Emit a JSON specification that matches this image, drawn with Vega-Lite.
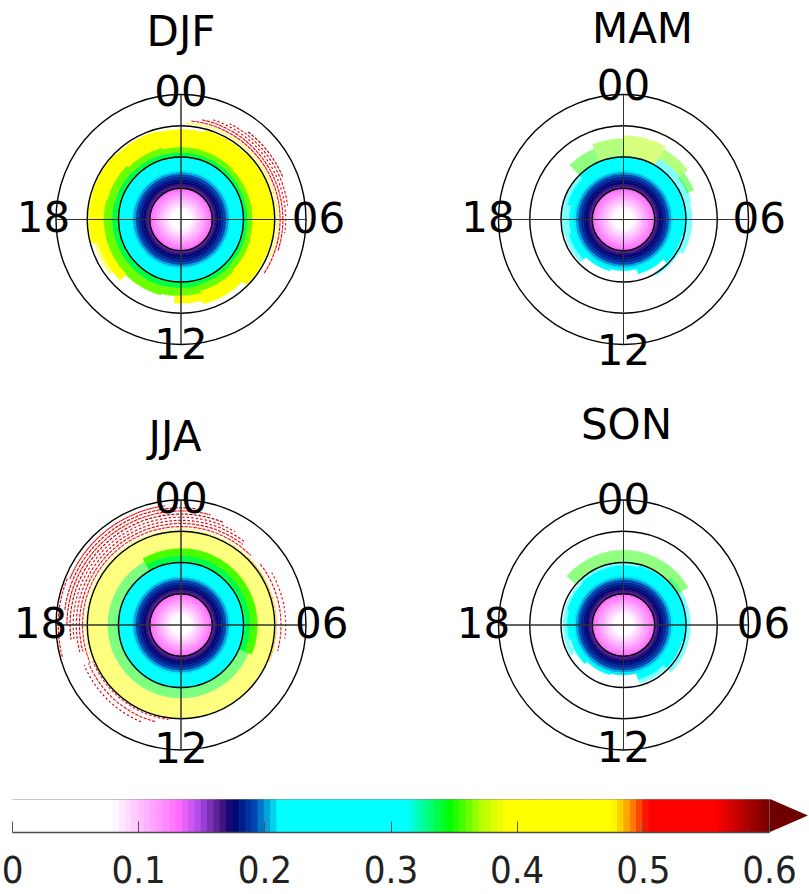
{
"$schema":"https://vega.github.io/schema/vega-lite/v6.json",
"background":"white",
"padding":0,
"spacing":0,
"config":{"view":{"stroke":null},"text":{"font":"DejaVu Sans"}},
"datasets":{
"core":[
{"r0":0,"r1":1,"v":0},{"r0":1,"r1":2,"v":0.035},{"r0":2,"r1":3,"v":0.065},{"r0":3,"r1":4,"v":0.08},{"r0":4,"r1":5,"v":0.088},{"r0":5,"r1":6,"v":0.096},{"r0":6,"r1":7,"v":0.104},{"r0":7,"r1":8,"v":0.112},{"r0":8,"r1":9,"v":0.12},{"r0":9,"r1":10,"v":0.128},
{"r0":10,"r1":10.7,"v":0.16},{"r0":10.7,"r1":11.4,"v":0.166},{"r0":11.4,"r1":12.2,"v":0.172},{"r0":12.2,"r1":13,"v":0.177},{"r0":13,"r1":13.8,"v":0.183},{"r0":13.8,"r1":14.6,"v":0.19},{"r0":14.6,"r1":15.3,"v":0.2},{"r0":15.3,"r1":16,"v":0.208}
],
"solid":[
{"s":"DJF","a0":0,"a1":24,"r0":16,"r1":20,"v":0.26},
{"s":"DJF","a0":-1,"a1":1,"r0":20,"r1":21.5,"v":0.335},{"s":"DJF","a0":-1,"a1":1,"r0":21.5,"r1":23.3,"v":0.36},{"s":"DJF","a0":-1,"a1":1,"r0":23.3,"r1":28.8,"v":0.42},
{"s":"DJF","a0":1,"a1":3,"r0":20,"r1":21.5,"v":0.335},{"s":"DJF","a0":1,"a1":3,"r0":21.5,"r1":23.2,"v":0.36},{"s":"DJF","a0":1,"a1":3,"r0":23.2,"r1":29.5,"v":0.42},
{"s":"DJF","a0":3,"a1":5,"r0":20,"r1":21.4,"v":0.335},{"s":"DJF","a0":3,"a1":5,"r0":21.4,"r1":23,"v":0.36},{"s":"DJF","a0":3,"a1":5,"r0":23,"r1":30,"v":0.42},
{"s":"DJF","a0":5,"a1":7,"r0":20,"r1":21.4,"v":0.335},{"s":"DJF","a0":5,"a1":7,"r0":21.4,"r1":23,"v":0.36},{"s":"DJF","a0":5,"a1":7,"r0":23,"r1":30,"v":0.42},
{"s":"DJF","a0":7,"a1":9,"r0":20,"r1":21.5,"v":0.335},{"s":"DJF","a0":7,"a1":9,"r0":21.5,"r1":23.3,"v":0.36},{"s":"DJF","a0":7,"a1":9,"r0":23.3,"r1":29.5,"v":0.42},
{"s":"DJF","a0":9,"a1":11,"r0":20,"r1":21.7,"v":0.335},{"s":"DJF","a0":9,"a1":11,"r0":21.7,"r1":23.8,"v":0.36},{"s":"DJF","a0":9,"a1":11,"r0":23.8,"r1":28,"v":0.42},
{"s":"DJF","a0":11,"a1":12.3,"r0":20,"r1":22,"v":0.335},{"s":"DJF","a0":11,"a1":12.3,"r0":22,"r1":24.5,"v":0.36},{"s":"DJF","a0":11,"a1":12.3,"r0":24.5,"r1":26.8,"v":0.42},
{"s":"DJF","a0":12.3,"a1":13,"r0":20,"r1":22,"v":0.335},{"s":"DJF","a0":12.3,"a1":13,"r0":22,"r1":24.5,"v":0.36},
{"s":"DJF","a0":13,"a1":15,"r0":20,"r1":22.2,"v":0.335},{"s":"DJF","a0":13,"a1":15,"r0":22.2,"r1":25,"v":0.36},
{"s":"DJF","a0":15,"a1":17,"r0":20,"r1":22.1,"v":0.335},{"s":"DJF","a0":15,"a1":17,"r0":22.1,"r1":24.8,"v":0.36},{"s":"DJF","a0":15,"a1":17,"r0":24.8,"r1":27.5,"v":0.42},
{"s":"DJF","a0":17,"a1":19,"r0":20,"r1":22.1,"v":0.335},{"s":"DJF","a0":17,"a1":19,"r0":22.1,"r1":24.8,"v":0.36},{"s":"DJF","a0":17,"a1":19,"r0":24.8,"r1":29.4,"v":0.42},
{"s":"DJF","a0":19,"a1":21,"r0":20,"r1":22,"v":0.335},{"s":"DJF","a0":19,"a1":21,"r0":22,"r1":24.5,"v":0.36},{"s":"DJF","a0":19,"a1":21,"r0":24.5,"r1":29.6,"v":0.42},
{"s":"DJF","a0":21,"a1":23,"r0":20,"r1":21.7,"v":0.335},{"s":"DJF","a0":21,"a1":23,"r0":21.7,"r1":23.8,"v":0.36},{"s":"DJF","a0":21,"a1":23,"r0":23.8,"r1":29.2,"v":0.42},
{"s":"MAM","a0":-1,"a1":1,"r0":16,"r1":20.3,"v":0.26},{"s":"MAM","a0":1,"a1":3,"r0":16,"r1":20.3,"v":0.26},{"s":"MAM","a0":3,"a1":5,"r0":16,"r1":20,"v":0.26},{"s":"MAM","a0":5,"a1":7,"r0":16,"r1":20,"v":0.26},{"s":"MAM","a0":7,"a1":9,"r0":16,"r1":19.5,"v":0.26},{"s":"MAM","a0":9,"a1":11,"r0":16,"r1":18,"v":0.26},{"s":"MAM","a0":11,"a1":13,"r0":16,"r1":16.4,"v":0.25},{"s":"MAM","a0":13,"a1":15,"r0":16,"r1":17,"v":0.26},{"s":"MAM","a0":15,"a1":17,"r0":16,"r1":18,"v":0.26},{"s":"MAM","a0":17,"a1":19,"r0":16,"r1":17.3,"v":0.26},{"s":"MAM","a0":19,"a1":21,"r0":16,"r1":18.5,"v":0.26},{"s":"MAM","a0":21,"a1":23,"r0":16,"r1":20,"v":0.26},
{"s":"JJA","a0":0,"a1":24,"r0":16,"r1":20.3,"v":0.26},
{"s":"JJA","a0":-2,"a1":7.5,"r0":20.3,"r1":22.3,"v":0.335},{"s":"JJA","a0":-2,"a1":7.5,"r0":22.3,"r1":24.5,"v":0.355},
{"s":"SON","a0":-1,"a1":1,"r0":16,"r1":19,"v":0.26},{"s":"SON","a0":1,"a1":3,"r0":16,"r1":19.5,"v":0.26},{"s":"SON","a0":3,"a1":5,"r0":16,"r1":20,"v":0.26},{"s":"SON","a0":5,"a1":7,"r0":16,"r1":20,"v":0.26},{"s":"SON","a0":7,"a1":9,"r0":16,"r1":19.5,"v":0.26},{"s":"SON","a0":9,"a1":11,"r0":16,"r1":18,"v":0.26},{"s":"SON","a0":13,"a1":15,"r0":16,"r1":16.5,"v":0.25},{"s":"SON","a0":15,"a1":17,"r0":16,"r1":17.5,"v":0.26},{"s":"SON","a0":17,"a1":19,"r0":16,"r1":18,"v":0.26},{"s":"SON","a0":19,"a1":21,"r0":16,"r1":18.5,"v":0.26},{"s":"SON","a0":21,"a1":23,"r0":16,"r1":19,"v":0.26}
],
"sparse":[
{"s":"DJF","a0":15.5,"a1":17,"r0":27.5,"r1":28.8,"v":0.42},{"s":"DJF","a0":17,"a1":19,"r0":29.4,"r1":30.4,"v":0.42},
{"s":"MAM","a0":15,"a1":17,"r0":18,"r1":19.5,"v":0.25},{"s":"MAM","a0":17,"a1":19,"r0":17.3,"r1":19.8,"v":0.25},{"s":"MAM","a0":19,"a1":21,"r0":18.5,"r1":20.3,"v":0.26},
{"s":"MAM","a0":2,"a1":5,"r0":20.3,"r1":22.5,"v":0.27},{"s":"MAM","a0":5,"a1":8,"r0":20,"r1":22,"v":0.26},{"s":"MAM","a0":8,"a1":10,"r0":19.5,"r1":20.8,"v":0.25},
{"s":"MAM","a0":21,"a1":22.5,"r0":20,"r1":24.5,"v":0.35},{"s":"MAM","a0":22.5,"a1":24,"r0":20.3,"r1":26,"v":0.36},{"s":"MAM","a0":0,"a1":2,"r0":20.3,"r1":27,"v":0.37},{"s":"MAM","a0":2,"a1":3.5,"r0":22.5,"r1":26,"v":0.36},{"s":"MAM","a0":3.5,"a1":4.5,"r0":22,"r1":24.5,"v":0.35},
{"s":"JJA","a0":7.5,"a1":22,"r0":20.3,"r1":23.5,"v":0.345},{"s":"JJA","a0":-2,"a1":7.5,"r0":24.5,"r1":30,"v":0.42},{"s":"JJA","a0":7.5,"a1":22,"r0":23.5,"r1":30,"v":0.41},
{"s":"SON","a0":21,"a1":27,"r0":19,"r1":20.2,"v":0.26},{"s":"SON","a0":3,"a1":9,"r0":20,"r1":21.5,"v":0.27},{"s":"SON","a0":16,"a1":21,"r0":18,"r1":19.5,"v":0.25},{"s":"SON","a0":9,"a1":11,"r0":18,"r1":19.5,"v":0.25},
{"s":"SON","a0":20.7,"a1":28,"r0":20.2,"r1":24,"v":0.35}
],
"dots":[
{"s":"DJF","a0":0.2,"a1":7.6,"r":30.8,"v":0.47},{"s":"DJF","a0":0.4,"a1":8.2,"r":31.7,"v":0.52},{"s":"DJF","a0":0.8,"a1":7.2,"r":32.6,"v":0.55},{"s":"DJF","a0":1.2,"a1":6.5,"r":33.5,"v":0.57},{"s":"DJF","a0":1.8,"a1":5.5,"r":34.4,"v":0.55},{"s":"DJF","a0":2.5,"a1":4.5,"r":35.3,"v":0.58},
{"s":"JJA","a0":16.5,"a1":27,"r":30.5,"v":0.47},{"s":"JJA","a0":16.5,"a1":27,"r":31.5,"v":0.5},{"s":"JJA","a0":17,"a1":26.5,"r":32.5,"v":0.53},{"s":"JJA","a0":17,"a1":26.5,"r":33.5,"v":0.56},{"s":"JJA","a0":17.5,"a1":26,"r":34.5,"v":0.54},{"s":"JJA","a0":17.5,"a1":25.5,"r":35.5,"v":0.58},{"s":"JJA","a0":18,"a1":25,"r":36.5,"v":0.55},{"s":"JJA","a0":18.5,"a1":24.5,"r":37.5,"v":0.57},{"s":"JJA","a0":19.5,"a1":23.5,"r":38.5,"v":0.56},{"s":"JJA","a0":17,"a1":19.5,"r":39.3,"v":0.52},
{"s":"JJA","a0":3,"a1":7.5,"r":30.5,"v":0.48},{"s":"JJA","a0":3.5,"a1":7,"r":32,"v":0.53},{"s":"JJA","a0":4,"a1":6.5,"r":33.5,"v":0.56},
{"s":"JJA","a0":12.5,"a1":16.5,"r":30.5,"v":0.5},{"s":"JJA","a0":13,"a1":16.5,"r":32,"v":0.55},{"s":"JJA","a0":13.5,"a1":16.5,"r":33.5,"v":0.57}
],
"grid":[{"r":10},{"r":20},{"r":30},{"r":40}],
"spokes":[{"h":0},{"h":6},{"h":12},{"h":18}],
"hv":[{"h":0,"t":"00"},{"h":12,"t":"12"}],
"hh":[{"h":6,"t":"06"},{"h":18,"t":"18"}],
"cbar":[
{"a":0,"b":0.005},{"a":0.005,"b":0.01},{"a":0.01,"b":0.015},{"a":0.015,"b":0.02},{"a":0.02,"b":0.025},{"a":0.025,"b":0.03},{"a":0.03,"b":0.035},{"a":0.035,"b":0.04},{"a":0.04,"b":0.045},{"a":0.045,"b":0.05},
{"a":0.05,"b":0.055},{"a":0.055,"b":0.06},{"a":0.06,"b":0.065},{"a":0.065,"b":0.07},{"a":0.07,"b":0.075},{"a":0.075,"b":0.08},{"a":0.08,"b":0.085},{"a":0.085,"b":0.09},{"a":0.09,"b":0.095},{"a":0.095,"b":0.1},
{"a":0.1,"b":0.105},{"a":0.105,"b":0.11},{"a":0.11,"b":0.115},{"a":0.115,"b":0.12},{"a":0.12,"b":0.125},{"a":0.125,"b":0.13},{"a":0.13,"b":0.135},{"a":0.135,"b":0.14},{"a":0.14,"b":0.145},{"a":0.145,"b":0.15},
{"a":0.15,"b":0.155},{"a":0.155,"b":0.16},{"a":0.16,"b":0.165},{"a":0.165,"b":0.17},{"a":0.17,"b":0.175},{"a":0.175,"b":0.18},{"a":0.18,"b":0.185},{"a":0.185,"b":0.19},{"a":0.19,"b":0.195},{"a":0.195,"b":0.2},
{"a":0.2,"b":0.205},{"a":0.205,"b":0.21},{"a":0.21,"b":0.215},{"a":0.215,"b":0.22},{"a":0.22,"b":0.225},{"a":0.225,"b":0.23},{"a":0.23,"b":0.235},{"a":0.235,"b":0.24},{"a":0.24,"b":0.245},{"a":0.245,"b":0.25},
{"a":0.25,"b":0.255},{"a":0.255,"b":0.26},{"a":0.26,"b":0.265},{"a":0.265,"b":0.27},{"a":0.27,"b":0.275},{"a":0.275,"b":0.28},{"a":0.28,"b":0.285},{"a":0.285,"b":0.29},{"a":0.29,"b":0.295},{"a":0.295,"b":0.3},
{"a":0.3,"b":0.305},{"a":0.305,"b":0.31},{"a":0.31,"b":0.315},{"a":0.315,"b":0.32},{"a":0.32,"b":0.325},{"a":0.325,"b":0.33},{"a":0.33,"b":0.335},{"a":0.335,"b":0.34},{"a":0.34,"b":0.345},{"a":0.345,"b":0.35},
{"a":0.35,"b":0.355},{"a":0.355,"b":0.36},{"a":0.36,"b":0.365},{"a":0.365,"b":0.37},{"a":0.37,"b":0.375},{"a":0.375,"b":0.38},{"a":0.38,"b":0.385},{"a":0.385,"b":0.39},{"a":0.39,"b":0.395},{"a":0.395,"b":0.4},
{"a":0.4,"b":0.405},{"a":0.405,"b":0.41},{"a":0.41,"b":0.415},{"a":0.415,"b":0.42},{"a":0.42,"b":0.425},{"a":0.425,"b":0.43},{"a":0.43,"b":0.435},{"a":0.435,"b":0.44},{"a":0.44,"b":0.445},{"a":0.445,"b":0.45},
{"a":0.45,"b":0.455},{"a":0.455,"b":0.46},{"a":0.46,"b":0.465},{"a":0.465,"b":0.47},{"a":0.47,"b":0.475},{"a":0.475,"b":0.48},{"a":0.48,"b":0.485},{"a":0.485,"b":0.49},{"a":0.49,"b":0.495},{"a":0.495,"b":0.5},
{"a":0.5,"b":0.505},{"a":0.505,"b":0.51},{"a":0.51,"b":0.515},{"a":0.515,"b":0.52},{"a":0.52,"b":0.525},{"a":0.525,"b":0.53},{"a":0.53,"b":0.535},{"a":0.535,"b":0.54},{"a":0.54,"b":0.545},{"a":0.545,"b":0.55},
{"a":0.55,"b":0.555},{"a":0.555,"b":0.56},{"a":0.56,"b":0.565},{"a":0.565,"b":0.57},{"a":0.57,"b":0.575},{"a":0.575,"b":0.58},{"a":0.58,"b":0.585},{"a":0.585,"b":0.59},{"a":0.59,"b":0.595},{"a":0.595,"b":0.6}
]
},
"vconcat":[
{"width":809,"height":798,"layer":[
{"data":{"name":"core"},"mark":{"type":"arc","strokeWidth":0.6},"encoding":{"x":{"datum":"L","type":"nominal","axis":null,"scale":{"type":"point","domain":["L","R"],"range":[181,623.5],"padding":0}},"y":{"datum":"T","type":"nominal","axis":null,"scale":{"type":"point","domain":["T","B"],"range":[219.5,625],"padding":0}},"theta":{"datum":0,"type":"quantitative","scale":{"domain":[0,24],"range":[0,6.2832]}},"theta2":{"datum":24},"radius":{"field":"r0","type":"quantitative","stack":null,"scale":{"type":"linear","zero":true,"domain":[0,40],"range":[0,125]}},"radius2":{"field":"r1"},"fill":{"field":"v","type":"quantitative","legend":null,"scale":{"type":"linear","interpolate":"rgb","domain":[0,0.077,0.085,0.13,0.147,0.163,0.173,0.19,0.21,0.31,0.345,0.37,0.39,0.474,0.487,0.502,0.555,0.6],"range":["#ffffff","#ffffff","#ffe8ff","#ff6cff","#a848e8","#4c1a84","#00006e","#0046b4","#00ffff","#00ffff","#00ff00","#b4ff00","#ffff00","#ffff00","#ff9800","#ff0000","#ff0000","#6e0000"]}},"stroke":{"field":"v","type":"quantitative","legend":null,"scale":{"type":"linear","interpolate":"rgb","domain":[0,0.077,0.085,0.13,0.147,0.163,0.173,0.19,0.21,0.31,0.345,0.37,0.39,0.474,0.487,0.502,0.555,0.6],"range":["#ffffff","#ffffff","#ffe8ff","#ff6cff","#a848e8","#4c1a84","#00006e","#0046b4","#00ffff","#00ffff","#00ff00","#b4ff00","#ffff00","#ffff00","#ff9800","#ff0000","#ff0000","#6e0000"]}}}},
{"data":{"name":"core"},"mark":{"type":"arc","strokeWidth":0.6},"encoding":{"x":{"datum":"R","type":"nominal","axis":null,"scale":{"type":"point","domain":["L","R"],"range":[181,623.5],"padding":0}},"y":{"datum":"T","type":"nominal","axis":null,"scale":{"type":"point","domain":["T","B"],"range":[219.5,625],"padding":0}},"theta":{"datum":0,"type":"quantitative","scale":{"domain":[0,24],"range":[0,6.2832]}},"theta2":{"datum":24},"radius":{"field":"r0","type":"quantitative","stack":null,"scale":{"type":"linear","zero":true,"domain":[0,40],"range":[0,125]}},"radius2":{"field":"r1"},"fill":{"field":"v","type":"quantitative","legend":null,"scale":{"type":"linear","interpolate":"rgb","domain":[0,0.077,0.085,0.13,0.147,0.163,0.173,0.19,0.21,0.31,0.345,0.37,0.39,0.474,0.487,0.502,0.555,0.6],"range":["#ffffff","#ffffff","#ffe8ff","#ff6cff","#a848e8","#4c1a84","#00006e","#0046b4","#00ffff","#00ffff","#00ff00","#b4ff00","#ffff00","#ffff00","#ff9800","#ff0000","#ff0000","#6e0000"]}},"stroke":{"field":"v","type":"quantitative","legend":null,"scale":{"type":"linear","interpolate":"rgb","domain":[0,0.077,0.085,0.13,0.147,0.163,0.173,0.19,0.21,0.31,0.345,0.37,0.39,0.474,0.487,0.502,0.555,0.6],"range":["#ffffff","#ffffff","#ffe8ff","#ff6cff","#a848e8","#4c1a84","#00006e","#0046b4","#00ffff","#00ffff","#00ff00","#b4ff00","#ffff00","#ffff00","#ff9800","#ff0000","#ff0000","#6e0000"]}}}},
{"data":{"name":"core"},"mark":{"type":"arc","strokeWidth":0.6},"encoding":{"x":{"datum":"L","type":"nominal","axis":null,"scale":{"type":"point","domain":["L","R"],"range":[181,623.5],"padding":0}},"y":{"datum":"B","type":"nominal","axis":null,"scale":{"type":"point","domain":["T","B"],"range":[219.5,625],"padding":0}},"theta":{"datum":0,"type":"quantitative","scale":{"domain":[0,24],"range":[0,6.2832]}},"theta2":{"datum":24},"radius":{"field":"r0","type":"quantitative","stack":null,"scale":{"type":"linear","zero":true,"domain":[0,40],"range":[0,125]}},"radius2":{"field":"r1"},"fill":{"field":"v","type":"quantitative","legend":null,"scale":{"type":"linear","interpolate":"rgb","domain":[0,0.077,0.085,0.13,0.147,0.163,0.173,0.19,0.21,0.31,0.345,0.37,0.39,0.474,0.487,0.502,0.555,0.6],"range":["#ffffff","#ffffff","#ffe8ff","#ff6cff","#a848e8","#4c1a84","#00006e","#0046b4","#00ffff","#00ffff","#00ff00","#b4ff00","#ffff00","#ffff00","#ff9800","#ff0000","#ff0000","#6e0000"]}},"stroke":{"field":"v","type":"quantitative","legend":null,"scale":{"type":"linear","interpolate":"rgb","domain":[0,0.077,0.085,0.13,0.147,0.163,0.173,0.19,0.21,0.31,0.345,0.37,0.39,0.474,0.487,0.502,0.555,0.6],"range":["#ffffff","#ffffff","#ffe8ff","#ff6cff","#a848e8","#4c1a84","#00006e","#0046b4","#00ffff","#00ffff","#00ff00","#b4ff00","#ffff00","#ffff00","#ff9800","#ff0000","#ff0000","#6e0000"]}}}},
{"data":{"name":"core"},"mark":{"type":"arc","strokeWidth":0.6},"encoding":{"x":{"datum":"R","type":"nominal","axis":null,"scale":{"type":"point","domain":["L","R"],"range":[181,623.5],"padding":0}},"y":{"datum":"B","type":"nominal","axis":null,"scale":{"type":"point","domain":["T","B"],"range":[219.5,625],"padding":0}},"theta":{"datum":0,"type":"quantitative","scale":{"domain":[0,24],"range":[0,6.2832]}},"theta2":{"datum":24},"radius":{"field":"r0","type":"quantitative","stack":null,"scale":{"type":"linear","zero":true,"domain":[0,40],"range":[0,125]}},"radius2":{"field":"r1"},"fill":{"field":"v","type":"quantitative","legend":null,"scale":{"type":"linear","interpolate":"rgb","domain":[0,0.077,0.085,0.13,0.147,0.163,0.173,0.19,0.21,0.31,0.345,0.37,0.39,0.474,0.487,0.502,0.555,0.6],"range":["#ffffff","#ffffff","#ffe8ff","#ff6cff","#a848e8","#4c1a84","#00006e","#0046b4","#00ffff","#00ffff","#00ff00","#b4ff00","#ffff00","#ffff00","#ff9800","#ff0000","#ff0000","#6e0000"]}},"stroke":{"field":"v","type":"quantitative","legend":null,"scale":{"type":"linear","interpolate":"rgb","domain":[0,0.077,0.085,0.13,0.147,0.163,0.173,0.19,0.21,0.31,0.345,0.37,0.39,0.474,0.487,0.502,0.555,0.6],"range":["#ffffff","#ffffff","#ffe8ff","#ff6cff","#a848e8","#4c1a84","#00006e","#0046b4","#00ffff","#00ffff","#00ff00","#b4ff00","#ffff00","#ffff00","#ff9800","#ff0000","#ff0000","#6e0000"]}}}},
{"data":{"name":"solid"},"transform":[{"filter":"datum.s==='DJF'"}],"mark":{"type":"arc","strokeWidth":0.6},"encoding":{"x":{"datum":"L","type":"nominal","axis":null,"scale":{"type":"point","domain":["L","R"],"range":[181,623.5],"padding":0}},"y":{"datum":"T","type":"nominal","axis":null,"scale":{"type":"point","domain":["T","B"],"range":[219.5,625],"padding":0}},"theta":{"field":"a0","type":"quantitative","stack":null,"scale":{"domain":[0,24],"range":[0,6.2832]}},"theta2":{"field":"a1"},"radius":{"field":"r0","type":"quantitative","stack":null,"scale":{"type":"linear","zero":true,"domain":[0,40],"range":[0,125]}},"radius2":{"field":"r1"},"fill":{"field":"v","type":"quantitative","legend":null,"scale":{"type":"linear","interpolate":"rgb","domain":[0,0.077,0.085,0.13,0.147,0.163,0.173,0.19,0.21,0.31,0.345,0.37,0.39,0.474,0.487,0.502,0.555,0.6],"range":["#ffffff","#ffffff","#ffe8ff","#ff6cff","#a848e8","#4c1a84","#00006e","#0046b4","#00ffff","#00ffff","#00ff00","#b4ff00","#ffff00","#ffff00","#ff9800","#ff0000","#ff0000","#6e0000"]}},"stroke":{"field":"v","type":"quantitative","legend":null,"scale":{"type":"linear","interpolate":"rgb","domain":[0,0.077,0.085,0.13,0.147,0.163,0.173,0.19,0.21,0.31,0.345,0.37,0.39,0.474,0.487,0.502,0.555,0.6],"range":["#ffffff","#ffffff","#ffe8ff","#ff6cff","#a848e8","#4c1a84","#00006e","#0046b4","#00ffff","#00ffff","#00ff00","#b4ff00","#ffff00","#ffff00","#ff9800","#ff0000","#ff0000","#6e0000"]}}}},
{"data":{"name":"solid"},"transform":[{"filter":"datum.s==='MAM'"}],"mark":{"type":"arc","strokeWidth":0.6},"encoding":{"x":{"datum":"R","type":"nominal","axis":null,"scale":{"type":"point","domain":["L","R"],"range":[181,623.5],"padding":0}},"y":{"datum":"T","type":"nominal","axis":null,"scale":{"type":"point","domain":["T","B"],"range":[219.5,625],"padding":0}},"theta":{"field":"a0","type":"quantitative","stack":null,"scale":{"domain":[0,24],"range":[0,6.2832]}},"theta2":{"field":"a1"},"radius":{"field":"r0","type":"quantitative","stack":null,"scale":{"type":"linear","zero":true,"domain":[0,40],"range":[0,125]}},"radius2":{"field":"r1"},"fill":{"field":"v","type":"quantitative","legend":null,"scale":{"type":"linear","interpolate":"rgb","domain":[0,0.077,0.085,0.13,0.147,0.163,0.173,0.19,0.21,0.31,0.345,0.37,0.39,0.474,0.487,0.502,0.555,0.6],"range":["#ffffff","#ffffff","#ffe8ff","#ff6cff","#a848e8","#4c1a84","#00006e","#0046b4","#00ffff","#00ffff","#00ff00","#b4ff00","#ffff00","#ffff00","#ff9800","#ff0000","#ff0000","#6e0000"]}},"stroke":{"field":"v","type":"quantitative","legend":null,"scale":{"type":"linear","interpolate":"rgb","domain":[0,0.077,0.085,0.13,0.147,0.163,0.173,0.19,0.21,0.31,0.345,0.37,0.39,0.474,0.487,0.502,0.555,0.6],"range":["#ffffff","#ffffff","#ffe8ff","#ff6cff","#a848e8","#4c1a84","#00006e","#0046b4","#00ffff","#00ffff","#00ff00","#b4ff00","#ffff00","#ffff00","#ff9800","#ff0000","#ff0000","#6e0000"]}}}},
{"data":{"name":"solid"},"transform":[{"filter":"datum.s==='JJA'"}],"mark":{"type":"arc","strokeWidth":0.6},"encoding":{"x":{"datum":"L","type":"nominal","axis":null,"scale":{"type":"point","domain":["L","R"],"range":[181,623.5],"padding":0}},"y":{"datum":"B","type":"nominal","axis":null,"scale":{"type":"point","domain":["T","B"],"range":[219.5,625],"padding":0}},"theta":{"field":"a0","type":"quantitative","stack":null,"scale":{"domain":[0,24],"range":[0,6.2832]}},"theta2":{"field":"a1"},"radius":{"field":"r0","type":"quantitative","stack":null,"scale":{"type":"linear","zero":true,"domain":[0,40],"range":[0,125]}},"radius2":{"field":"r1"},"fill":{"field":"v","type":"quantitative","legend":null,"scale":{"type":"linear","interpolate":"rgb","domain":[0,0.077,0.085,0.13,0.147,0.163,0.173,0.19,0.21,0.31,0.345,0.37,0.39,0.474,0.487,0.502,0.555,0.6],"range":["#ffffff","#ffffff","#ffe8ff","#ff6cff","#a848e8","#4c1a84","#00006e","#0046b4","#00ffff","#00ffff","#00ff00","#b4ff00","#ffff00","#ffff00","#ff9800","#ff0000","#ff0000","#6e0000"]}},"stroke":{"field":"v","type":"quantitative","legend":null,"scale":{"type":"linear","interpolate":"rgb","domain":[0,0.077,0.085,0.13,0.147,0.163,0.173,0.19,0.21,0.31,0.345,0.37,0.39,0.474,0.487,0.502,0.555,0.6],"range":["#ffffff","#ffffff","#ffe8ff","#ff6cff","#a848e8","#4c1a84","#00006e","#0046b4","#00ffff","#00ffff","#00ff00","#b4ff00","#ffff00","#ffff00","#ff9800","#ff0000","#ff0000","#6e0000"]}}}},
{"data":{"name":"solid"},"transform":[{"filter":"datum.s==='SON'"}],"mark":{"type":"arc","strokeWidth":0.6},"encoding":{"x":{"datum":"R","type":"nominal","axis":null,"scale":{"type":"point","domain":["L","R"],"range":[181,623.5],"padding":0}},"y":{"datum":"B","type":"nominal","axis":null,"scale":{"type":"point","domain":["T","B"],"range":[219.5,625],"padding":0}},"theta":{"field":"a0","type":"quantitative","stack":null,"scale":{"domain":[0,24],"range":[0,6.2832]}},"theta2":{"field":"a1"},"radius":{"field":"r0","type":"quantitative","stack":null,"scale":{"type":"linear","zero":true,"domain":[0,40],"range":[0,125]}},"radius2":{"field":"r1"},"fill":{"field":"v","type":"quantitative","legend":null,"scale":{"type":"linear","interpolate":"rgb","domain":[0,0.077,0.085,0.13,0.147,0.163,0.173,0.19,0.21,0.31,0.345,0.37,0.39,0.474,0.487,0.502,0.555,0.6],"range":["#ffffff","#ffffff","#ffe8ff","#ff6cff","#a848e8","#4c1a84","#00006e","#0046b4","#00ffff","#00ffff","#00ff00","#b4ff00","#ffff00","#ffff00","#ff9800","#ff0000","#ff0000","#6e0000"]}},"stroke":{"field":"v","type":"quantitative","legend":null,"scale":{"type":"linear","interpolate":"rgb","domain":[0,0.077,0.085,0.13,0.147,0.163,0.173,0.19,0.21,0.31,0.345,0.37,0.39,0.474,0.487,0.502,0.555,0.6],"range":["#ffffff","#ffffff","#ffe8ff","#ff6cff","#a848e8","#4c1a84","#00006e","#0046b4","#00ffff","#00ffff","#00ff00","#b4ff00","#ffff00","#ffff00","#ff9800","#ff0000","#ff0000","#6e0000"]}}}},
{"data":{"name":"sparse"},"transform":[{"filter":"datum.s==='DJF'"}],"mark":{"type":"arc","fillOpacity":0.5},"encoding":{"x":{"datum":"L","type":"nominal","axis":null,"scale":{"type":"point","domain":["L","R"],"range":[181,623.5],"padding":0}},"y":{"datum":"T","type":"nominal","axis":null,"scale":{"type":"point","domain":["T","B"],"range":[219.5,625],"padding":0}},"theta":{"field":"a0","type":"quantitative","stack":null,"scale":{"domain":[0,24],"range":[0,6.2832]}},"theta2":{"field":"a1"},"radius":{"field":"r0","type":"quantitative","stack":null,"scale":{"type":"linear","zero":true,"domain":[0,40],"range":[0,125]}},"radius2":{"field":"r1"},"fill":{"field":"v","type":"quantitative","legend":null,"scale":{"type":"linear","interpolate":"rgb","domain":[0,0.077,0.085,0.13,0.147,0.163,0.173,0.19,0.21,0.31,0.345,0.37,0.39,0.474,0.487,0.502,0.555,0.6],"range":["#ffffff","#ffffff","#ffe8ff","#ff6cff","#a848e8","#4c1a84","#00006e","#0046b4","#00ffff","#00ffff","#00ff00","#b4ff00","#ffff00","#ffff00","#ff9800","#ff0000","#ff0000","#6e0000"]}}}},
{"data":{"name":"sparse"},"transform":[{"filter":"datum.s==='MAM'"}],"mark":{"type":"arc","fillOpacity":0.5},"encoding":{"x":{"datum":"R","type":"nominal","axis":null,"scale":{"type":"point","domain":["L","R"],"range":[181,623.5],"padding":0}},"y":{"datum":"T","type":"nominal","axis":null,"scale":{"type":"point","domain":["T","B"],"range":[219.5,625],"padding":0}},"theta":{"field":"a0","type":"quantitative","stack":null,"scale":{"domain":[0,24],"range":[0,6.2832]}},"theta2":{"field":"a1"},"radius":{"field":"r0","type":"quantitative","stack":null,"scale":{"type":"linear","zero":true,"domain":[0,40],"range":[0,125]}},"radius2":{"field":"r1"},"fill":{"field":"v","type":"quantitative","legend":null,"scale":{"type":"linear","interpolate":"rgb","domain":[0,0.077,0.085,0.13,0.147,0.163,0.173,0.19,0.21,0.31,0.345,0.37,0.39,0.474,0.487,0.502,0.555,0.6],"range":["#ffffff","#ffffff","#ffe8ff","#ff6cff","#a848e8","#4c1a84","#00006e","#0046b4","#00ffff","#00ffff","#00ff00","#b4ff00","#ffff00","#ffff00","#ff9800","#ff0000","#ff0000","#6e0000"]}}}},
{"data":{"name":"sparse"},"transform":[{"filter":"datum.s==='JJA'"}],"mark":{"type":"arc","fillOpacity":0.5},"encoding":{"x":{"datum":"L","type":"nominal","axis":null,"scale":{"type":"point","domain":["L","R"],"range":[181,623.5],"padding":0}},"y":{"datum":"B","type":"nominal","axis":null,"scale":{"type":"point","domain":["T","B"],"range":[219.5,625],"padding":0}},"theta":{"field":"a0","type":"quantitative","stack":null,"scale":{"domain":[0,24],"range":[0,6.2832]}},"theta2":{"field":"a1"},"radius":{"field":"r0","type":"quantitative","stack":null,"scale":{"type":"linear","zero":true,"domain":[0,40],"range":[0,125]}},"radius2":{"field":"r1"},"fill":{"field":"v","type":"quantitative","legend":null,"scale":{"type":"linear","interpolate":"rgb","domain":[0,0.077,0.085,0.13,0.147,0.163,0.173,0.19,0.21,0.31,0.345,0.37,0.39,0.474,0.487,0.502,0.555,0.6],"range":["#ffffff","#ffffff","#ffe8ff","#ff6cff","#a848e8","#4c1a84","#00006e","#0046b4","#00ffff","#00ffff","#00ff00","#b4ff00","#ffff00","#ffff00","#ff9800","#ff0000","#ff0000","#6e0000"]}}}},
{"data":{"name":"sparse"},"transform":[{"filter":"datum.s==='SON'"}],"mark":{"type":"arc","fillOpacity":0.5},"encoding":{"x":{"datum":"R","type":"nominal","axis":null,"scale":{"type":"point","domain":["L","R"],"range":[181,623.5],"padding":0}},"y":{"datum":"B","type":"nominal","axis":null,"scale":{"type":"point","domain":["T","B"],"range":[219.5,625],"padding":0}},"theta":{"field":"a0","type":"quantitative","stack":null,"scale":{"domain":[0,24],"range":[0,6.2832]}},"theta2":{"field":"a1"},"radius":{"field":"r0","type":"quantitative","stack":null,"scale":{"type":"linear","zero":true,"domain":[0,40],"range":[0,125]}},"radius2":{"field":"r1"},"fill":{"field":"v","type":"quantitative","legend":null,"scale":{"type":"linear","interpolate":"rgb","domain":[0,0.077,0.085,0.13,0.147,0.163,0.173,0.19,0.21,0.31,0.345,0.37,0.39,0.474,0.487,0.502,0.555,0.6],"range":["#ffffff","#ffffff","#ffe8ff","#ff6cff","#a848e8","#4c1a84","#00006e","#0046b4","#00ffff","#00ffff","#00ff00","#b4ff00","#ffff00","#ffff00","#ff9800","#ff0000","#ff0000","#6e0000"]}}}},
{"data":{"name":"dots"},"transform":[{"filter":"datum.s==='DJF'"}],"mark":{"type":"arc","filled":false,"strokeWidth":1.1,"strokeDash":[2,2.5]},"encoding":{"x":{"datum":"L","type":"nominal","axis":null,"scale":{"type":"point","domain":["L","R"],"range":[181,623.5],"padding":0}},"y":{"datum":"T","type":"nominal","axis":null,"scale":{"type":"point","domain":["T","B"],"range":[219.5,625],"padding":0}},"theta":{"field":"a0","type":"quantitative","stack":null,"scale":{"domain":[0,24],"range":[0,6.2832]}},"theta2":{"field":"a1"},"radius":{"field":"r","type":"quantitative","stack":null,"scale":{"type":"linear","zero":true,"domain":[0,40],"range":[0,125]}},"radius2":{"field":"r"},"stroke":{"field":"v","type":"quantitative","legend":null,"scale":{"type":"linear","interpolate":"rgb","domain":[0,0.077,0.085,0.13,0.147,0.163,0.173,0.19,0.21,0.31,0.345,0.37,0.39,0.474,0.487,0.502,0.555,0.6],"range":["#ffffff","#ffffff","#ffe8ff","#ff6cff","#a848e8","#4c1a84","#00006e","#0046b4","#00ffff","#00ffff","#00ff00","#b4ff00","#ffff00","#ffff00","#ff9800","#ff0000","#ff0000","#6e0000"]}}}},
{"data":{"name":"dots"},"transform":[{"filter":"datum.s==='JJA'"}],"mark":{"type":"arc","filled":false,"strokeWidth":1.1,"strokeDash":[2,2.5]},"encoding":{"x":{"datum":"L","type":"nominal","axis":null,"scale":{"type":"point","domain":["L","R"],"range":[181,623.5],"padding":0}},"y":{"datum":"B","type":"nominal","axis":null,"scale":{"type":"point","domain":["T","B"],"range":[219.5,625],"padding":0}},"theta":{"field":"a0","type":"quantitative","stack":null,"scale":{"domain":[0,24],"range":[0,6.2832]}},"theta2":{"field":"a1"},"radius":{"field":"r","type":"quantitative","stack":null,"scale":{"type":"linear","zero":true,"domain":[0,40],"range":[0,125]}},"radius2":{"field":"r"},"stroke":{"field":"v","type":"quantitative","legend":null,"scale":{"type":"linear","interpolate":"rgb","domain":[0,0.077,0.085,0.13,0.147,0.163,0.173,0.19,0.21,0.31,0.345,0.37,0.39,0.474,0.487,0.502,0.555,0.6],"range":["#ffffff","#ffffff","#ffe8ff","#ff6cff","#a848e8","#4c1a84","#00006e","#0046b4","#00ffff","#00ffff","#00ff00","#b4ff00","#ffff00","#ffff00","#ff9800","#ff0000","#ff0000","#6e0000"]}}}},
{"data":{"name":"grid"},"mark":{"type":"arc","filled":false,"stroke":"black","strokeWidth":1.4},"encoding":{"x":{"datum":"L","type":"nominal","axis":null,"scale":{"type":"point","domain":["L","R"],"range":[181,623.5],"padding":0}},"y":{"datum":"T","type":"nominal","axis":null,"scale":{"type":"point","domain":["T","B"],"range":[219.5,625],"padding":0}},"theta":{"datum":0,"type":"quantitative","scale":{"domain":[0,24],"range":[0,6.2832]}},"theta2":{"datum":24},"radius":{"field":"r","type":"quantitative","stack":null,"scale":{"type":"linear","zero":true,"domain":[0,40],"range":[0,125]}}}},
{"data":{"name":"grid"},"mark":{"type":"arc","filled":false,"stroke":"black","strokeWidth":1.4},"encoding":{"x":{"datum":"R","type":"nominal","axis":null,"scale":{"type":"point","domain":["L","R"],"range":[181,623.5],"padding":0}},"y":{"datum":"T","type":"nominal","axis":null,"scale":{"type":"point","domain":["T","B"],"range":[219.5,625],"padding":0}},"theta":{"datum":0,"type":"quantitative","scale":{"domain":[0,24],"range":[0,6.2832]}},"theta2":{"datum":24},"radius":{"field":"r","type":"quantitative","stack":null,"scale":{"type":"linear","zero":true,"domain":[0,40],"range":[0,125]}}}},
{"data":{"name":"grid"},"mark":{"type":"arc","filled":false,"stroke":"black","strokeWidth":1.4},"encoding":{"x":{"datum":"L","type":"nominal","axis":null,"scale":{"type":"point","domain":["L","R"],"range":[181,623.5],"padding":0}},"y":{"datum":"B","type":"nominal","axis":null,"scale":{"type":"point","domain":["T","B"],"range":[219.5,625],"padding":0}},"theta":{"datum":0,"type":"quantitative","scale":{"domain":[0,24],"range":[0,6.2832]}},"theta2":{"datum":24},"radius":{"field":"r","type":"quantitative","stack":null,"scale":{"type":"linear","zero":true,"domain":[0,40],"range":[0,125]}}}},
{"data":{"name":"grid"},"mark":{"type":"arc","filled":false,"stroke":"black","strokeWidth":1.4},"encoding":{"x":{"datum":"R","type":"nominal","axis":null,"scale":{"type":"point","domain":["L","R"],"range":[181,623.5],"padding":0}},"y":{"datum":"B","type":"nominal","axis":null,"scale":{"type":"point","domain":["T","B"],"range":[219.5,625],"padding":0}},"theta":{"datum":0,"type":"quantitative","scale":{"domain":[0,24],"range":[0,6.2832]}},"theta2":{"datum":24},"radius":{"field":"r","type":"quantitative","stack":null,"scale":{"type":"linear","zero":true,"domain":[0,40],"range":[0,125]}}}},
{"data":{"name":"spokes"},"mark":{"type":"arc","filled":false,"stroke":"#333333","strokeWidth":1},"encoding":{"x":{"datum":"L","type":"nominal","axis":null,"scale":{"type":"point","domain":["L","R"],"range":[181,623.5],"padding":0}},"y":{"datum":"T","type":"nominal","axis":null,"scale":{"type":"point","domain":["T","B"],"range":[219.5,625],"padding":0}},"theta":{"field":"h","type":"quantitative","stack":null,"scale":{"domain":[0,24],"range":[0,6.2832]}},"theta2":{"field":"h"},"radius":{"datum":40,"type":"quantitative","scale":{"type":"linear","zero":true,"domain":[0,40],"range":[0,125]}}}},
{"data":{"name":"spokes"},"mark":{"type":"arc","filled":false,"stroke":"#333333","strokeWidth":1},"encoding":{"x":{"datum":"R","type":"nominal","axis":null,"scale":{"type":"point","domain":["L","R"],"range":[181,623.5],"padding":0}},"y":{"datum":"T","type":"nominal","axis":null,"scale":{"type":"point","domain":["T","B"],"range":[219.5,625],"padding":0}},"theta":{"field":"h","type":"quantitative","stack":null,"scale":{"domain":[0,24],"range":[0,6.2832]}},"theta2":{"field":"h"},"radius":{"datum":40,"type":"quantitative","scale":{"type":"linear","zero":true,"domain":[0,40],"range":[0,125]}}}},
{"data":{"name":"spokes"},"mark":{"type":"arc","filled":false,"stroke":"#333333","strokeWidth":1},"encoding":{"x":{"datum":"L","type":"nominal","axis":null,"scale":{"type":"point","domain":["L","R"],"range":[181,623.5],"padding":0}},"y":{"datum":"B","type":"nominal","axis":null,"scale":{"type":"point","domain":["T","B"],"range":[219.5,625],"padding":0}},"theta":{"field":"h","type":"quantitative","stack":null,"scale":{"domain":[0,24],"range":[0,6.2832]}},"theta2":{"field":"h"},"radius":{"datum":40,"type":"quantitative","scale":{"type":"linear","zero":true,"domain":[0,40],"range":[0,125]}}}},
{"data":{"name":"spokes"},"mark":{"type":"arc","filled":false,"stroke":"#333333","strokeWidth":1},"encoding":{"x":{"datum":"R","type":"nominal","axis":null,"scale":{"type":"point","domain":["L","R"],"range":[181,623.5],"padding":0}},"y":{"datum":"B","type":"nominal","axis":null,"scale":{"type":"point","domain":["T","B"],"range":[219.5,625],"padding":0}},"theta":{"field":"h","type":"quantitative","stack":null,"scale":{"domain":[0,24],"range":[0,6.2832]}},"theta2":{"field":"h"},"radius":{"datum":40,"type":"quantitative","scale":{"type":"linear","zero":true,"domain":[0,40],"range":[0,125]}}}},
{"data":{"name":"hv"},"mark":{"type":"text","fontSize":42,"color":"black","align":"center","baseline":"middle"},"encoding":{"x":{"datum":"L","type":"nominal","axis":null,"scale":{"type":"point","domain":["L","R"],"range":[181,623.5],"padding":0}},"y":{"datum":"T","type":"nominal","axis":null,"scale":{"type":"point","domain":["T","B"],"range":[219.5,625],"padding":0}},"theta":{"field":"h","type":"quantitative","stack":null,"scale":{"domain":[0,24],"range":[0,6.2832]}},"radius":{"datum":40.6,"type":"quantitative","scale":{"type":"linear","zero":true,"domain":[0,40],"range":[0,125]}},"text":{"field":"t"}}},
{"data":{"name":"hv"},"mark":{"type":"text","fontSize":42,"color":"black","align":"center","baseline":"middle"},"encoding":{"x":{"datum":"R","type":"nominal","axis":null,"scale":{"type":"point","domain":["L","R"],"range":[181,623.5],"padding":0}},"y":{"datum":"T","type":"nominal","axis":null,"scale":{"type":"point","domain":["T","B"],"range":[219.5,625],"padding":0}},"theta":{"field":"h","type":"quantitative","stack":null,"scale":{"domain":[0,24],"range":[0,6.2832]}},"radius":{"datum":42.4,"type":"quantitative","scale":{"type":"linear","zero":true,"domain":[0,40],"range":[0,125]}},"text":{"field":"t"}}},
{"data":{"name":"hv"},"mark":{"type":"text","fontSize":42,"color":"black","align":"center","baseline":"middle"},"encoding":{"x":{"datum":"L","type":"nominal","axis":null,"scale":{"type":"point","domain":["L","R"],"range":[181,623.5],"padding":0}},"y":{"datum":"B","type":"nominal","axis":null,"scale":{"type":"point","domain":["T","B"],"range":[219.5,625],"padding":0}},"theta":{"field":"h","type":"quantitative","stack":null,"scale":{"domain":[0,24],"range":[0,6.2832]}},"radius":{"datum":40,"type":"quantitative","scale":{"type":"linear","zero":true,"domain":[0,40],"range":[0,125]}},"text":{"field":"t"}}},
{"data":{"name":"hv"},"mark":{"type":"text","fontSize":42,"color":"black","align":"center","baseline":"middle"},"encoding":{"x":{"datum":"R","type":"nominal","axis":null,"scale":{"type":"point","domain":["L","R"],"range":[181,623.5],"padding":0}},"y":{"datum":"B","type":"nominal","axis":null,"scale":{"type":"point","domain":["T","B"],"range":[219.5,625],"padding":0}},"theta":{"field":"h","type":"quantitative","stack":null,"scale":{"domain":[0,24],"range":[0,6.2832]}},"radius":{"datum":39.8,"type":"quantitative","scale":{"type":"linear","zero":true,"domain":[0,40],"range":[0,125]}},"text":{"field":"t"}}},
{"data":{"name":"hh"},"mark":{"type":"text","fontSize":42,"color":"black","align":"center","baseline":"middle"},"encoding":{"x":{"datum":"L","type":"nominal","axis":null,"scale":{"type":"point","domain":["L","R"],"range":[181,623.5],"padding":0}},"y":{"datum":"T","type":"nominal","axis":null,"scale":{"type":"point","domain":["T","B"],"range":[219.5,625],"padding":0}},"theta":{"field":"h","type":"quantitative","stack":null,"scale":{"domain":[0,24],"range":[0,6.2832]}},"radius":{"datum":44,"type":"quantitative","scale":{"type":"linear","zero":true,"domain":[0,40],"range":[0,125]}},"text":{"field":"t"}}},
{"data":{"name":"hh"},"mark":{"type":"text","fontSize":42,"color":"black","align":"center","baseline":"middle"},"encoding":{"x":{"datum":"R","type":"nominal","axis":null,"scale":{"type":"point","domain":["L","R"],"range":[181,623.5],"padding":0}},"y":{"datum":"T","type":"nominal","axis":null,"scale":{"type":"point","domain":["T","B"],"range":[219.5,625],"padding":0}},"theta":{"field":"h","type":"quantitative","stack":null,"scale":{"domain":[0,24],"range":[0,6.2832]}},"radius":{"datum":43.4,"type":"quantitative","scale":{"type":"linear","zero":true,"domain":[0,40],"range":[0,125]}},"text":{"field":"t"}}},
{"data":{"name":"hh"},"mark":{"type":"text","fontSize":42,"color":"black","align":"center","baseline":"middle"},"encoding":{"x":{"datum":"L","type":"nominal","axis":null,"scale":{"type":"point","domain":["L","R"],"range":[181,623.5],"padding":0}},"y":{"datum":"B","type":"nominal","axis":null,"scale":{"type":"point","domain":["T","B"],"range":[219.5,625],"padding":0}},"theta":{"field":"h","type":"quantitative","stack":null,"scale":{"domain":[0,24],"range":[0,6.2832]}},"radius":{"datum":45,"type":"quantitative","scale":{"type":"linear","zero":true,"domain":[0,40],"range":[0,125]}},"text":{"field":"t"}}},
{"data":{"name":"hh"},"mark":{"type":"text","fontSize":42,"color":"black","align":"center","baseline":"middle"},"encoding":{"x":{"datum":"R","type":"nominal","axis":null,"scale":{"type":"point","domain":["L","R"],"range":[181,623.5],"padding":0}},"y":{"datum":"B","type":"nominal","axis":null,"scale":{"type":"point","domain":["T","B"],"range":[219.5,625],"padding":0}},"theta":{"field":"h","type":"quantitative","stack":null,"scale":{"domain":[0,24],"range":[0,6.2832]}},"radius":{"datum":44.8,"type":"quantitative","scale":{"type":"linear","zero":true,"domain":[0,40],"range":[0,125]}},"text":{"field":"t"}}},
{"data":{"values":[{"t":"DJF"}]},"mark":{"type":"text","fontSize":42,"color":"black","align":"center","baseline":"middle"},"encoding":{"x":{"datum":"L","type":"nominal","axis":null,"scale":{"type":"point","domain":["L","R"],"range":[181,623.5],"padding":0}},"y":{"datum":"T","type":"nominal","axis":null,"scale":{"type":"point","domain":["T","B"],"range":[219.5,625],"padding":0}},"theta":{"datum":0,"type":"quantitative","scale":{"domain":[0,24],"range":[0,6.2832]}},"radius":{"datum":59.8,"type":"quantitative","scale":{"type":"linear","zero":true,"domain":[0,40],"range":[0,125]}},"text":{"field":"t"}}},
{"data":{"values":[{"t":"MAM"}]},"mark":{"type":"text","fontSize":42,"color":"black","align":"center","baseline":"middle","dx":19},"encoding":{"x":{"datum":"R","type":"nominal","axis":null,"scale":{"type":"point","domain":["L","R"],"range":[181,623.5],"padding":0}},"y":{"datum":"T","type":"nominal","axis":null,"scale":{"type":"point","domain":["T","B"],"range":[219.5,625],"padding":0}},"theta":{"datum":0,"type":"quantitative","scale":{"domain":[0,24],"range":[0,6.2832]}},"radius":{"datum":60.7,"type":"quantitative","scale":{"type":"linear","zero":true,"domain":[0,40],"range":[0,125]}},"text":{"field":"t"}}},
{"data":{"values":[{"t":"JJA"}]},"mark":{"type":"text","fontSize":42,"color":"black","align":"center","baseline":"middle","dx":-6},"encoding":{"x":{"datum":"L","type":"nominal","axis":null,"scale":{"type":"point","domain":["L","R"],"range":[181,623.5],"padding":0}},"y":{"datum":"B","type":"nominal","axis":null,"scale":{"type":"point","domain":["T","B"],"range":[219.5,625],"padding":0}},"theta":{"datum":0,"type":"quantitative","scale":{"domain":[0,24],"range":[0,6.2832]}},"radius":{"datum":59.9,"type":"quantitative","scale":{"type":"linear","zero":true,"domain":[0,40],"range":[0,125]}},"text":{"field":"t"}}},
{"data":{"values":[{"t":"SON"}]},"mark":{"type":"text","fontSize":42,"color":"black","align":"center","baseline":"middle","dx":3},"encoding":{"x":{"datum":"R","type":"nominal","axis":null,"scale":{"type":"point","domain":["L","R"],"range":[181,623.5],"padding":0}},"y":{"datum":"B","type":"nominal","axis":null,"scale":{"type":"point","domain":["T","B"],"range":[219.5,625],"padding":0}},"theta":{"datum":0,"type":"quantitative","scale":{"domain":[0,24],"range":[0,6.2832]}},"radius":{"datum":63.8,"type":"quantitative","scale":{"type":"linear","zero":true,"domain":[0,40],"range":[0,125]}},"text":{"field":"t"}}}
]},
{"bounds":"flush","spacing":0,"hconcat":[
{"width":12,"height":33,"data":{"values":[]},"mark":"point","encoding":{}},
{"width":757,"height":33,"view":{"stroke":"#8c8c8c","strokeWidth":1},"data":{"name":"cbar"},"mark":{"type":"rect","strokeWidth":1},"encoding":{"x":{"field":"a","type":"quantitative","scale":{"domain":[0,0.6]},"axis":{"orient":"bottom","values":[0,0.1,0.2,0.3,0.4,0.5,0.6],"format":"~g","zindex":1,"domain":true,"domainColor":"#4d4d4d","domainWidth":1.6,"ticks":true,"tickSize":-11,"tickColor":"#555555","tickWidth":1,"labelFont":"DejaVu Sans Condensed, DejaVu Sans","labelFontSize":38,"labelColor":"#222222","labelPadding":31,"labelFlush":false,"labelOverlap":false,"grid":false,"title":null}},"x2":{"field":"b"},"y":{"datum":0.97,"type":"quantitative","axis":null,"scale":{"domain":[0,1]}},"y2":{"datum":0},"fill":{"field":"a","type":"quantitative","legend":null,"scale":{"type":"linear","interpolate":"rgb","domain":[0,0.077,0.085,0.13,0.147,0.163,0.173,0.19,0.21,0.31,0.345,0.37,0.39,0.474,0.487,0.502,0.555,0.6],"range":["#ffffff","#ffffff","#ffe8ff","#ff6cff","#a848e8","#4c1a84","#00006e","#0046b4","#00ffff","#00ffff","#00ff00","#b4ff00","#ffff00","#ffff00","#ff9800","#ff0000","#ff0000","#6e0000"]}},"stroke":{"field":"a","type":"quantitative","legend":null,"scale":{"type":"linear","interpolate":"rgb","domain":[0,0.077,0.085,0.13,0.147,0.163,0.173,0.19,0.21,0.31,0.345,0.37,0.39,0.474,0.487,0.502,0.555,0.6],"range":["#ffffff","#ffffff","#ffe8ff","#ff6cff","#a848e8","#4c1a84","#00006e","#0046b4","#00ffff","#00ffff","#00ff00","#b4ff00","#ffff00","#ffff00","#ff9800","#ff0000","#ff0000","#6e0000"]}}}},
{"width":40,"height":33,"data":{"values":[{"a":0.6}]},"mark":{"type":"point","shape":"M -1.15 -1 L 1.15 0 L -1.15 1 Z","size":1089,"filled":true,"color":"#6e0000","opacity":1,"strokeWidth":0},"encoding":{}}
]}
]
}
